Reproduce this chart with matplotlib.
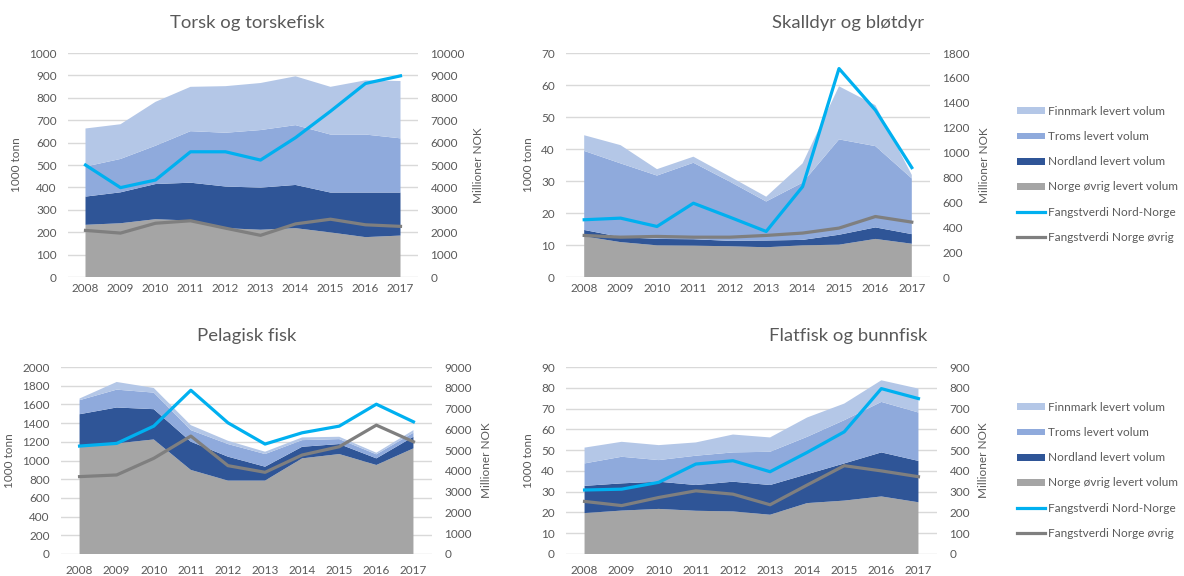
import matplotlib
matplotlib.use("Agg")
import matplotlib.pyplot as plt
from matplotlib.patches import Patch
from matplotlib.lines import Line2D

plt.rcParams['font.family'] = ['Lato', 'DejaVu Sans']

years = [2008, 2009, 2010, 2011, 2012, 2013, 2014, 2015, 2016, 2017]
series_names = ["Finnmark levert volum", "Troms levert volum", "Nordland levert volum",
                "Norge øvrig levert volum", "Fangstverdi Nord-Norge", "Fangstverdi Norge øvrig"]

# Torsk og torskefisk (1000 tonn / Millioner NOK)
torsk_ovrig = [233, 240, 258, 252, 218, 211, 218, 199, 178, 185]
torsk_nordland = [126, 138, 157, 169, 186, 188, 193, 178, 199, 192]
torsk_troms = [134, 149, 171, 230, 240, 257, 267, 259, 259, 242]
torsk_finnmark = [170, 155, 196, 198, 208, 210, 218, 213, 242, 256]
torsk_verdi_nn = [5000, 3990, 4330, 5590, 5590, 5220, 6220, 7400, 8640, 8980]
torsk_verdi_ovrig = [2080, 1960, 2400, 2510, 2180, 1860, 2370, 2580, 2330, 2260]

# Skalldyr og bløtdyr
skall_ovrig = [12.7, 10.9, 9.9, 9.8, 9.6, 9.3, 9.9, 10.1, 11.9, 10.4]
skall_nordland = [2.0, 1.6, 2.0, 2.0, 1.7, 2.1, 1.7, 3.1, 3.6, 3.0]
skall_troms = [24.7, 23.0, 19.8, 23.9, 18.5, 12.2, 17.9, 29.8, 25.4, 17.4]
skall_finnmark = [4.9, 5.7, 2.0, 1.9, 1.6, 1.5, 6.0, 16.6, 12.8, 1.1]
skall_verdi_nn = [460, 473, 406, 593, 481, 366, 726, 1675, 1341, 879]
skall_verdi_ovrig = [334, 320, 326, 320, 320, 334, 353, 393, 486, 441]

# Pelagisk fisk
pel_ovrig = [1154, 1183, 1225, 899, 785, 785, 1023, 1069, 952, 1130]
pel_nordland = [341, 384, 324, 302, 256, 149, 124, 107, 71, 124]
pel_troms = [150, 191, 177, 124, 135, 135, 71, 53, 43, 43]
pel_finnmark = [18, 82, 50, 53, 35, 25, 29, 25, 17, 28]
pel_verdi_nn = [5195, 5323, 6154, 7881, 6314, 5291, 5834, 6154, 7209, 6362]
pel_verdi_ovrig = [3724, 3804, 4604, 5675, 4252, 3932, 4764, 5163, 6202, 5403]

# Flatfisk og bunnfisk
flat_ovrig = [19.7, 20.9, 21.7, 20.8, 20.5, 18.9, 24.5, 25.7, 27.7, 24.9]
flat_nordland = [13.1, 13.1, 13.1, 12.4, 14.3, 14.3, 13.9, 17.9, 21.2, 19.9]
flat_troms = [10.8, 12.8, 10.4, 14.1, 14.1, 16.0, 18.0, 20.8, 24.3, 23.3]
flat_finnmark = [7.6, 7.2, 7.2, 6.4, 8.6, 6.9, 9.3, 8.0, 10.4, 11.5]
flat_verdi_nn = [308, 312, 345, 433, 449, 396, 489, 588, 796, 748]
flat_verdi_ovrig = [253, 233, 272, 304, 288, 237, 332, 425, 400, 372]

C_FIN = "#B4C7E7"
C_TRO = "#8FAADC"
C_NOR = "#2F5597"
C_OVR = "#A5A5A5"
C_LNN = "#00B0F0"
C_LOV = "#7F7F7F"
TXT = "#595959"
GRID = "#D9D9D9"

W, H = 1184, 576
fig = plt.figure(figsize=(W / 100, H / 100), dpi=100)


def px_axes(l, t, r, b):
    return fig.add_axes([l / W, 1 - b / H, (r - l) / W, (b - t) / H])


panels = [
    dict(title="Torsk og torskefisk", box=(68, 53, 418, 277), data=(torsk_ovrig, torsk_nordland, torsk_troms, torsk_finnmark),
         lines=(torsk_verdi_nn, torsk_verdi_ovrig), lmax=1000, lstep=100, rmax=10000, rstep=1000,
         title_xy=(247, 23), ylab_l=17, ylab_r=479, xpad=4),
    dict(title="Skalldyr og bløtdyr", box=(566, 53, 930, 277), data=(skall_ovrig, skall_nordland, skall_troms, skall_finnmark),
         lines=(skall_verdi_nn, skall_verdi_ovrig), lmax=70, lstep=10, rmax=1800, rstep=200,
         title_xy=(848, 23), ylab_l=528, ylab_r=985, xpad=4),
    dict(title="Pelagisk fisk", box=(61, 367, 432, 554), data=(pel_ovrig, pel_nordland, pel_troms, pel_finnmark),
         lines=(pel_verdi_nn, pel_verdi_ovrig), lmax=2000, lstep=200, rmax=9000, rstep=1000,
         title_xy=(247, 336), ylab_l=10, ylab_r=487, xpad=8),
    dict(title="Flatfisk og bunnfisk", box=(566, 367, 937, 554), data=(flat_ovrig, flat_nordland, flat_troms, flat_finnmark),
         lines=(flat_verdi_nn, flat_verdi_ovrig), lmax=90, lstep=10, rmax=900, rstep=100,
         title_xy=(848, 336), ylab_l=528, ylab_r=984, xpad=8),
]

for p in panels:
    l, t, r, b = p["box"]
    ax = px_axes(l, t, r, b)
    ovr, nor, tro, fin = p["data"]
    ax.stackplot(years, ovr, nor, tro, fin, colors=[C_OVR, C_NOR, C_TRO, C_FIN], linewidth=0)
    ax.set_xlim(years[0] - 0.5, years[-1] + 0.5)
    ax.set_ylim(0, p["lmax"])
    ax.set_yticks(list(range(0, p["lmax"] + 1, p["lstep"])))
    ax.set_xticks(years)
    ax.set_axisbelow(True)
    ax.yaxis.grid(True, color=GRID, linewidth=1)
    for s in ax.spines.values():
        s.set_visible(False)
    ax.tick_params(axis='both', length=0, labelsize=8.5, labelcolor=TXT)
    ax.tick_params(axis='y', pad=8)
    ax.tick_params(axis='x', pad=p["xpad"])

    ax2 = ax.twinx()
    nn, ov = p["lines"]
    ax2.plot(years, nn, color=C_LNN, linewidth=2.3, solid_joinstyle='round')
    ax2.plot(years, ov, color=C_LOV, linewidth=2.3, solid_joinstyle='round')
    ax2.set_ylim(0, p["rmax"])
    ax2.set_yticks(list(range(0, p["rmax"] + 1, p["rstep"])))
    for s in ax2.spines.values():
        s.set_visible(False)
    ax2.tick_params(axis='y', length=0, labelsize=8.5, labelcolor=TXT, pad=9)

    tx, ty = p["title_xy"]
    fig.text(tx / W, 1 - ty / H, p["title"], ha='center', va='center', fontsize=13.3, color=TXT)
    cy = 1 - ((t + b) / 2) / H
    fig.text(p["ylab_l"] / W, cy, "1000 tonn", rotation=90, ha='center', va='center', fontsize=8.5, color=TXT)
    fig.text(p["ylab_r"] / W, cy, "Millioner NOK", rotation=90, ha='center', va='center', fontsize=8.5, color=TXT)

handles = [Patch(facecolor=C_FIN, edgecolor='none'), Patch(facecolor=C_TRO, edgecolor='none'),
           Patch(facecolor=C_NOR, edgecolor='none'), Patch(facecolor=C_OVR, edgecolor='none'),
           Line2D([], [], color=C_LNN, linewidth=2.3), Line2D([], [], color=C_LOV, linewidth=2.3)]

for top in (106, 402):
    fig.legend(handles, series_names, loc='upper left', bbox_to_anchor=(1017 / W, 1 - top / H),
               frameon=False, fontsize=8.5, labelcolor=TXT, handlelength=2.4, handleheight=0.5,
               handletextpad=0.25, labelspacing=1.2, borderpad=0, borderaxespad=0)

fig.savefig("out.png", dpi=100)
